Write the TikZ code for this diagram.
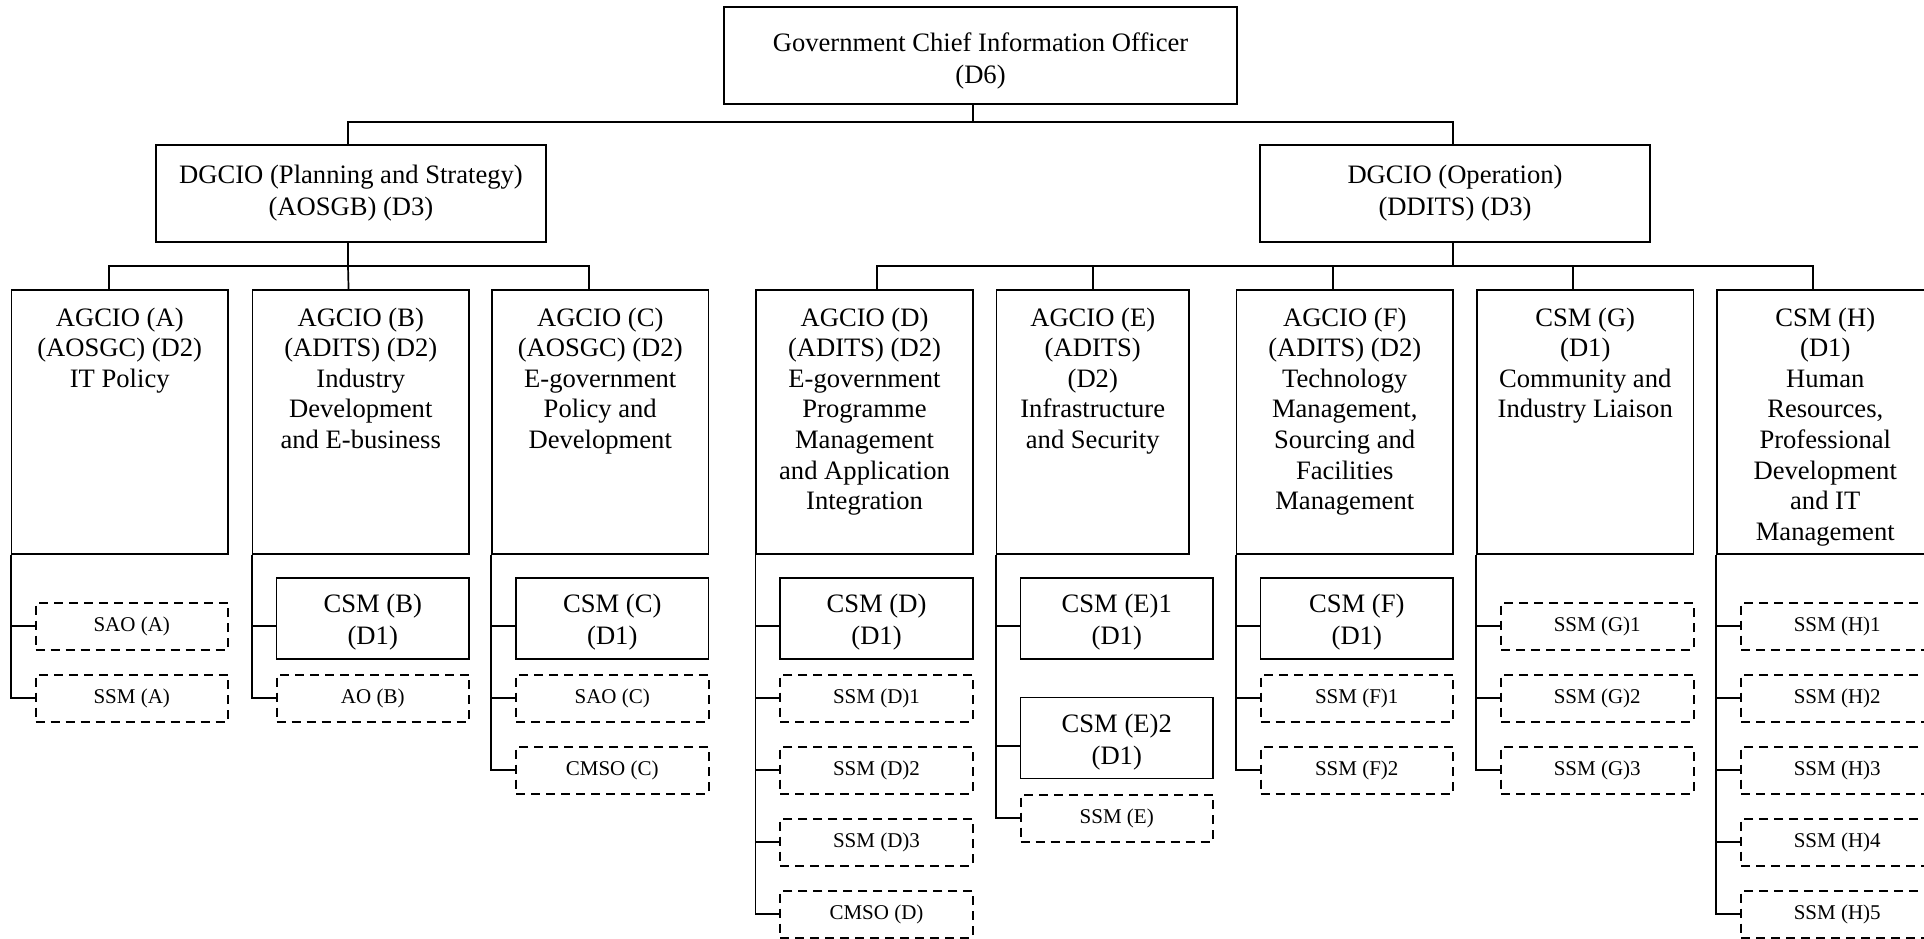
\documentclass[tikz,border=0pt]{standalone}
\usepackage{fontspec}
\setmainfont{Liberation Serif}
\usetikzlibrary{calc}
\newcommand\csmnode[3]{%
  \node[csmbox] (#1) at (#2) {};
  \node[btext] (#1t) at ([yshift=-2pt]#1.center) {#3};}
\begin{document}
\begin{tikzpicture}[x=0.5pt,y=-0.5pt,
  ln/.style={line width=0.85pt},
  btext/.style={inner sep=0pt, align=center, font=\fontsize{13.3}{16}\selectfont},
  sbox/.style={draw, line width=0.85pt, inner sep=0pt, align=center, font=\fontsize{13.3}{16}\selectfont},
  colbox/.style={draw, line width=0.85pt, inner sep=0pt, minimum width=108.25pt, minimum height=132pt},
  coltext/.style={inner sep=0pt, align=center, anchor=north, font=\fontsize{13.3}{15.3}\selectfont},
  csmbox/.style={draw, line width=0.85pt, inner sep=0pt, minimum width=96.25pt, minimum height=40.5pt},
  dbox/.style={draw, line width=1pt, dash pattern=on 4.5pt off 3pt, inner sep=0pt, minimum width=96.25pt, minimum height=23.5pt, font=\fontsize{10.5}{12}\selectfont},
]
\useasboundingbox (0,0) rectangle (1924,938);
\clip (0,0) rectangle (1924,938);

% top levels
\node[sbox, minimum width=256.5pt, minimum height=48.5pt] (gcio) at (980.5,55.5) {};
\node[btext] (gciot) at ([yshift=-2.5pt]gcio.center) {Government Chief Information Officer\\(D6)};
\node[sbox, minimum width=195pt, minimum height=48.5pt] (dps) at (351,193.5) {DGCIO (Planning and Strategy)\\(AOSGB) (D3)};
\node[sbox, minimum width=195pt, minimum height=48.5pt] (dop) at (1455,193.5) {DGCIO (Operation)\\(DDITS) (D3)};

% columns
\node[colbox] (cA) at (119.75,422) {};
\node[colbox] (cB) at (360.75,422) {};
\node[colbox] (cC) at (600.25,422) {};
\node[colbox] (cD) at (864.5,422) {};
\node[colbox, minimum width=96.25pt] (cE) at (1092.75,422) {};
\node[colbox] (cF) at (1344.75,422) {};
\node[colbox] (cG) at (1585.25,422) {};
\node[colbox] (cH) at (1825.25,422) {};

\node[coltext] (tA) at ([yshift=-9pt]cA.north) {AGCIO (A)\\(AOSGC) (D2)\\IT Policy};
\node[coltext] (tB) at ([yshift=-9pt]cB.north) {AGCIO (B)\\(ADITS) (D2)\\Industry\\Development\\and E-business};
\node[coltext] (tC) at ([yshift=-9pt]cC.north) {AGCIO (C)\\(AOSGC) (D2)\\E-government\\Policy and\\Development};
\node[coltext] (tD) at ([yshift=-9pt]cD.north) {AGCIO (D)\\(ADITS) (D2)\\E-government\\Programme\\Management\\and Application\\Integration};
\node[coltext] (tE) at ([yshift=-9pt]cE.north) {AGCIO (E)\\(ADITS)\\(D2)\\Infrastructure\\and Security};
\node[coltext] (tF) at ([yshift=-9pt]cF.north) {AGCIO (F)\\(ADITS) (D2)\\Technology\\Management,\\Sourcing and\\Facilities\\Management};
\node[coltext] (tG) at ([yshift=-9pt]cG.north) {CSM (G)\\(D1)\\Community and\\Industry Liaison};
\node[coltext] (tH) at ([yshift=-9pt]cH.north) {CSM (H)\\(D1)\\Human\\Resources,\\Professional\\Development\\and IT\\Management};

% sub boxes
\node[dbox] (saoA) at (131.75,626) {SAO (A)};
\node[dbox] (ssmA) at (131.75,698) {SSM (A)};

\csmnode{csmB}{372.75,618.2}{CSM (B)\\(D1)}
\node[dbox] (aoB) at (372.75,698) {AO (B)};

\csmnode{csmC}{612.25,618.2}{CSM (C)\\(D1)}
\node[dbox] (saoC) at (612.25,698) {SAO (C)};
\node[dbox] (cmsoC) at (612.25,770) {CMSO (C)};

\csmnode{csmD}{876.5,618.2}{CSM (D)\\(D1)}
\node[dbox] (ssmD1) at (876.5,698) {SSM (D)1};
\node[dbox] (ssmD2) at (876.5,770) {SSM (D)2};
\node[dbox] (ssmD3) at (876.5,842) {SSM (D)3};
\node[dbox] (cmsoD) at (876.5,914) {CMSO (D)};

\csmnode{csmE1}{1116.75,618.2}{CSM (E)1\\(D1)}
\csmnode{csmE2}{1116.75,738}{CSM (E)2\\(D1)}
\node[dbox] (ssmE) at (1116.75,818) {SSM (E)};

\csmnode{csmF}{1356.75,618.2}{CSM (F)\\(D1)}
\node[dbox] (ssmF1) at (1356.75,698) {SSM (F)1};
\node[dbox] (ssmF2) at (1356.75,770) {SSM (F)2};

\node[dbox] (ssmG1) at (1597.25,626) {SSM (G)1};
\node[dbox] (ssmG2) at (1597.25,698) {SSM (G)2};
\node[dbox] (ssmG3) at (1597.25,770) {SSM (G)3};

\node[dbox] (ssmH1) at (1837.25,626) {SSM (H)1};
\node[dbox] (ssmH2) at (1837.25,698) {SSM (H)2};
\node[dbox] (ssmH3) at (1837.25,770) {SSM (H)3};
\node[dbox] (ssmH4) at (1837.25,842) {SSM (H)4};
\node[dbox] (ssmH5) at (1837.25,914) {SSM (H)5};

% top connectors
\coordinate (jt) at (973,122);
\draw[ln] (jt |- gcio.south) -- (jt);
\draw[ln] ([xshift=-1.5pt]dps.north) |- (jt) -| ([xshift=-1pt]dop.north);

\coordinate (jl) at (348,266);
\draw[ln] (jl |- dps.south) -- (jl);
\draw[ln] ([xshift=-5.4pt]cA.north) |- (jl) -| ([xshift=-5.8pt]cC.north);
\draw[ln] (jl) -- ([xshift=-6.1pt]cB.north);

\coordinate (jr) at (1453,266);
\draw[ln] (jr |- dop.south) -- (jr);
\draw[ln] ([xshift=6.25pt]cD.north) |- (jr) -| ([xshift=-6.1pt]cH.north);
\draw[ln] (cE.north) -- (cE.north |- jr);
\draw[ln] ([xshift=-5.9pt]cF.north) -- ([xshift=-5.9pt]cF.north |- jr);
\draw[ln] ([xshift=-6.1pt]cG.north) -- ([xshift=-6.1pt]cG.north |- jr);

% column connectors
\draw[ln] (cA.south west) |- (saoA.west);
\draw[ln] (cA.south west) |- (ssmA.west);

\draw[ln] (cB.south west) |- ([yshift=-4pt]csmB.west);
\draw[ln] (cB.south west) |- (aoB.west);

\draw[ln] (cC.south west) |- ([yshift=-4pt]csmC.west);
\draw[ln] (cC.south west) |- (saoC.west);
\draw[ln] (cC.south west) |- (cmsoC.west);

\draw[ln] (cD.south west) |- ([yshift=-4pt]csmD.west);
\draw[ln] (cD.south west) |- (ssmD1.west);
\draw[ln] (cD.south west) |- (ssmD2.west);
\draw[ln] (cD.south west) |- (ssmD3.west);
\draw[ln] (cD.south west) |- (cmsoD.west);

\draw[ln] (cE.south west) |- ([yshift=-4pt]csmE1.west);
\draw[ln] (cE.south west) |- ([yshift=-4pt]csmE2.west);
\draw[ln] (cE.south west) |- (ssmE.west);

\draw[ln] (cF.south west) |- ([yshift=-4pt]csmF.west);
\draw[ln] (cF.south west) |- (ssmF1.west);
\draw[ln] (cF.south west) |- (ssmF2.west);

\draw[ln] (cG.south west) |- (ssmG1.west);
\draw[ln] (cG.south west) |- (ssmG2.west);
\draw[ln] (cG.south west) |- (ssmG3.west);

\draw[ln] (cH.south west) |- (ssmH1.west);
\draw[ln] (cH.south west) |- (ssmH2.west);
\draw[ln] (cH.south west) |- (ssmH3.west);
\draw[ln] (cH.south west) |- (ssmH4.west);
\draw[ln] (cH.south west) |- (ssmH5.west);
\end{tikzpicture}
\end{document}
